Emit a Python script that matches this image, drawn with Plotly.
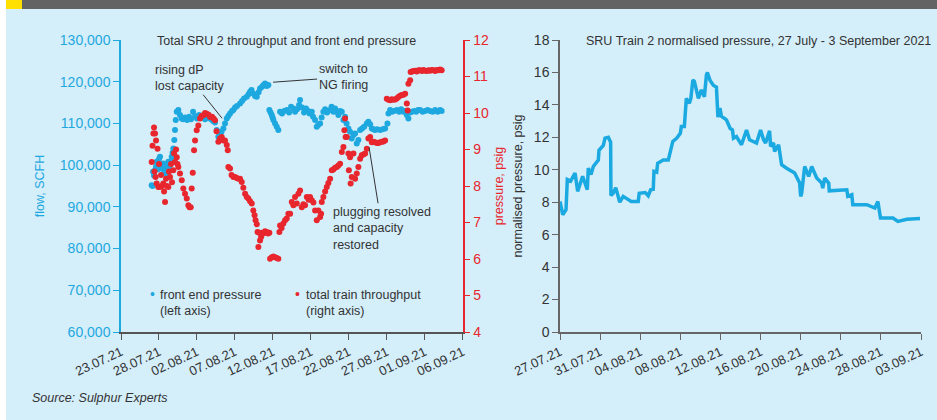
import pandas as pd
import plotly.graph_objects as go

# left panel - days counted from 23.07.21
blue_day = [4.04, 4.15, 4.22, 4.35, 4.48, 4.61, 4.70, 4.87, 5.01, 5.14, 5.27, 5.40, 5.57, 5.67, 5.80,
            5.93, 6.02, 6.13, 6.23, 6.32, 6.46, 6.59, 6.68, 6.79, 6.89, 7.02, 7.11, 7.21, 7.34, 7.55,
            7.77, 8.00, 8.17, 8.43, 8.70, 8.96, 9.22, 9.49, 9.75, 10.01, 10.28, 10.54, 10.80, 11.07,
            11.33, 11.59, 11.86, 12.12, 12.38, 12.61, 12.82, 13.04, 13.24, 13.48, 13.70, 13.93, 14.14,
            14.36, 14.62, 14.80, 15.02, 15.28, 15.68, 15.94, 16.21, 16.56, 16.80, 17.00, 17.19, 17.43,
            17.65, 17.88, 18.12, 18.31, 18.58, 18.77, 18.97, 19.20, 19.41, 19.54, 19.70, 19.85, 19.96,
            20.07, 20.29, 20.51, 20.72, 20.95, 21.21, 21.48, 21.83, 22.13, 22.40, 22.70, 22.92, 23.19,
            23.45, 23.58, 23.85, 24.11, 24.37, 24.64, 24.83, 25.13, 25.30, 25.56, 25.78, 25.96, 26.22,
            26.42, 26.65, 26.88, 27.14, 27.54, 27.73, 27.97, 28.19, 28.39, 28.63, 28.85, 29.08, 29.29,
            29.51, 29.71, 29.95, 30.17, 30.39, 30.61, 30.83, 31.05, 31.26, 31.49, 31.75, 32.02, 32.37,
            32.58, 32.81, 33.03, 33.24, 33.46, 33.73, 34.12, 34.45, 34.78, 35.09, 35.22, 35.44, 35.70,
            35.97, 36.32, 36.63, 36.89, 37.19, 37.42, 37.64, 37.85, 38.08, 38.30, 38.60, 38.87, 39.13,
            39.39, 39.72, 40.05, 40.38, 40.71, 41.04, 41.37, 41.70, 42.03, 42.23]
blue_flow = [95200, 95000, 98400, 97500, 98800, 99600, 100800, 99000, 101500, 102000, 100000, 99200,
             100400, 98800, 99600, 97800, 98400, 99400, 100800, 99500, 100000, 101000, 102000, 103000,
             104000, 106000, 108400, 110800, 112800, 113200, 112000, 111200, 111000, 111400, 110800,
             111600, 111000, 112800, 111800, 111200, 112000, 111500, 111800, 111000, 111600, 111300,
             111000, 110600, 110200, 108400, 106800, 107600, 108000, 108800, 110000, 111200, 111800,
             112400, 113000, 113200, 113800, 114200, 114800, 115400, 116000, 116400, 117000, 117600,
             118000, 117200, 116600, 116400, 117500, 118400, 118800, 119200, 119600, 119000, 119200,
             113200, 112600, 112000, 111400, 110800, 110000, 109200, 108400, 112800, 112400, 113000,
             113200, 112600, 114000, 113600, 112800, 113400, 114400, 115600, 113800, 112600, 113600,
             113000, 112400, 112800, 111600, 110800, 109200, 109600, 110000, 111400, 112800, 113400,
             112600, 113200, 114000, 112800, 113600, 112800, 112000, 113000, 112800, 110800, 111600,
             110000, 108800, 108000, 106400, 107200, 107600, 105200, 106000, 108400, 108800, 109200,
             110000, 110400, 109800, 108800, 108600, 108400, 108600, 108400, 108600, 108800, 110000,
             112400, 113200, 112800, 113000, 113200, 112800, 113400, 112800, 113000, 112000, 111200,
             112600, 112800, 113000, 112800, 113200, 113200, 112800, 113000, 113200, 113000, 112800,
             113200, 112800, 113200, 113000]

red_day = [4.04, 4.15, 4.26, 4.35, 4.41, 4.48, 4.55, 4.61, 4.70, 4.81, 4.91, 5.01, 5.14, 5.27, 5.40,
           5.57, 5.67, 5.80, 5.93, 6.06, 6.23, 6.32, 6.46, 6.59, 6.72, 6.89, 6.98, 7.11, 7.25, 7.34,
           7.44, 7.55, 7.77, 8.00, 8.21, 8.43, 8.66, 8.87, 9.02, 9.18, 9.31, 9.45, 9.62, 9.75, 9.97,
           10.18, 10.41, 10.61, 10.84, 11.07, 11.29, 11.53, 11.73, 11.99, 12.19, 12.38, 12.58, 12.82,
           13.04, 13.27, 13.48, 13.70, 13.93, 14.06, 14.14, 14.36, 14.56, 14.80, 15.02, 15.24, 15.45,
           15.68, 15.90, 16.11, 16.34, 16.56, 16.77, 17.00, 17.22, 17.43, 17.59, 17.72, 17.88, 17.98,
           18.09, 18.18, 18.31, 18.45, 18.54, 18.75, 18.97, 19.20, 19.37, 19.54, 19.63, 19.85, 20.07,
           20.29, 20.51, 20.72, 20.86, 20.95, 21.15, 21.38, 21.61, 21.83, 22.04, 22.27, 22.49, 22.70,
           22.92, 23.15, 23.36, 23.58, 23.81, 24.02, 24.24, 24.47, 24.70, 24.90, 25.13, 25.34, 25.56,
           25.78, 25.99, 26.22, 26.35, 26.44, 26.65, 26.88, 27.10, 27.31, 27.54, 27.76, 27.97, 28.19,
           28.42, 28.63, 28.85, 29.08, 29.29, 29.42, 29.51, 29.58, 29.74, 29.95, 30.01, 30.17, 30.24,
           30.39, 30.61, 30.83, 31.05, 31.26, 31.49, 31.71, 31.92, 32.15, 32.37, 32.58, 32.81, 33.03,
           33.24, 33.46, 33.69, 33.90, 34.12, 34.35, 34.56, 34.78, 35.00, 35.22, 35.44, 35.66, 35.87,
           36.10, 36.32, 36.53, 36.76, 36.98, 37.19, 37.42, 37.64, 37.75, 37.85, 38.08, 38.14, 38.34,
           38.51, 38.73, 38.96, 39.17, 39.39, 39.62, 39.83, 40.05, 40.28, 40.49, 40.71, 40.93, 41.15,
           41.37, 41.59, 41.80, 42.03, 42.23]
red_psig = [8.66, 9.10, 9.44, 9.60, 8.40, 9.44, 8.25, 9.25, 8.07, 9.02, 7.97, 8.60, 7.97, 8.30, 8.00,
            8.07, 7.85, 7.56, 8.20, 8.00, 7.97, 8.40, 8.25, 8.60, 8.10, 8.43, 8.90, 8.66, 9.00, 8.79,
            8.60, 8.52, 8.34, 8.16, 7.93, 7.79, 7.66, 7.47, 7.42, 7.42, 7.93, 8.36, 8.98, 9.25, 9.53,
            9.66, 9.85, 9.92, 9.94, 10.00, 9.98, 9.95, 9.89, 9.90, 9.85, 9.80, 9.50, 9.21,
            9.30, 9.34, 9.25, 9.25, 9.12, 8.98, 8.52, 8.48, 8.30, 8.25, 8.25, 8.22, 8.20,
            8.20, 8.11, 7.95, 7.79, 7.70, 7.66, 7.58, 7.52, 7.33, 7.20, 7.06, 6.95, 6.74,
            6.33, 6.72, 6.51, 6.60, 6.72, 6.70, 6.76, 6.74, 6.70, 6.72, 6.01, 6.05, 6.07,
            6.05, 6.03, 6.01, 6.74, 6.92, 6.85, 6.97, 7.06, 7.11, 7.24, 7.24, 7.56, 7.47,
            7.70, 7.52, 7.79, 7.88, 7.42, 7.50, 7.47, 7.70, 7.62, 7.70, 7.61, 7.55, 7.33,
            7.06, 7.33, 7.15, 7.24, 7.56, 7.70, 7.85, 7.97, 8.08, 8.20, 8.43, 8.45, 8.50,
            8.52, 8.56, 8.61, 8.93, 9.07, 9.53, 9.85, 9.34, 9.34, 8.89, 8.43, 8.79, 8.07,
            8.25, 8.89, 8.20, 8.34, 8.52, 8.75, 8.84, 8.86, 8.89, 9.02, 9.30, 9.34, 9.20,
            9.21, 9.20, 9.18, 9.18, 9.20, 9.21, 9.22, 9.25, 10.39, 10.36, 10.35, 10.38, 10.36,
            10.37, 10.40, 10.44, 10.47, 10.49, 10.50, 10.53, 10.26, 10.07, 10.80, 10.90, 11.12, 11.14,
            11.15, 11.16, 11.14, 11.17, 11.17, 11.15, 11.18, 11.16, 11.15, 11.17, 11.16, 11.18, 11.17,
            11.15, 11.18, 11.17, 11.19, 11.17]

left_ticks = ["23.07.21", "28.07.21", "02.08.21", "07.08.21", "12.08.21",
              "17.08.21", "22.08.21", "27.08.21", "01.09.21", "06.09.21"]

# right panel - days counted from 27.07.21
norm_day = [0, 0.27, 0.6, 0.73, 1.06, 1.5, 1.76, 2.26, 2.72, 2.82, 3.09, 3.32, 3.82, 3.89, 4.32, 4.49,
            4.82, 5.05, 5.08, 5.3, 5.56, 5.96, 6.3, 7.1, 7.8, 7.9, 8.5, 8.8, 9.04, 9.3, 9.37, 9.64,
            9.74, 10.3, 10.8, 11.25, 11.65, 12.0, 12.1, 12.4, 12.6, 12.9, 13.05, 13.25, 13.4, 13.8,
            14.1, 14.4, 14.6, 14.7, 14.97, 15.3, 15.6, 15.75, 15.95, 16.1, 16.6, 16.96, 17.2, 17.3,
            17.6, 18.1, 18.6, 18.9, 19.6, 20.0, 20.3, 20.5, 20.9, 21.0, 21.3, 21.4, 21.8, 22.1, 22.6,
            23.4, 23.9, 24.0, 24.1, 24.4, 24.8, 25.1, 25.6, 26.1, 26.2, 26.4, 26.8, 26.85, 28.6, 28.7,
            29.1, 29.2, 30.6, 31.4, 31.7, 31.96, 33.2, 33.7, 34.6, 35.9]
norm_psig = [8.05, 7.23, 7.54, 9.4, 9.3, 9.8, 8.67, 9.59, 8.77, 10.1, 9.7, 10.2, 10.6, 11.2, 11.5, 11.95,
             12.0, 11.7, 8.42, 8.55, 8.9, 8.0, 8.36, 8.05, 8.05, 8.55, 8.6, 8.4, 8.77, 8.8, 9.9, 9.85,
             10.4, 10.6, 10.6, 11.75, 11.95, 12.25, 12.67, 12.67, 14.4, 14.1, 14.4, 15.54, 15.45, 14.4,
             14.92, 14.5, 15.85, 16.0, 15.5, 15.2, 15.1, 13.24, 13.8, 13.3, 13.08, 12.56, 12.45, 11.95,
             12.05, 11.54, 12.45, 11.85, 11.65, 12.45, 11.85, 11.65, 12.4, 11.44, 11.65, 11.13, 11.54,
             10.31, 10.1, 9.8, 9.18, 8.36, 8.55, 10.2, 9.59, 10.2, 9.49, 9.18, 8.87, 9.49, 9.18, 8.7,
             8.77, 8.36, 8.46, 7.85, 7.85, 7.64, 8.05, 7.03, 7.03, 6.82, 6.95, 7.0]

right_tick_day = [0, 4, 8, 12, 16, 20, 24, 28, 32, 36]
right_ticks = ["27.07.21", "31.07.21", "04.08.21", "08.08.21", "12.08.21",
               "16.08.21", "20.08.21", "24.08.21", "28.08.21", "03.09.21"]

BG = "#d4eefa"
BLUE = "#1ea8e0"
RED = "#e8262d"
DARK = "#333333"
FONT = "Liberation Sans, Arial, sans-serif"

start = pd.Timestamp("2021-07-23")
blue_x = start + pd.to_timedelta(blue_day, unit="D")
red_x = start + pd.to_timedelta(red_day, unit="D")
left_tickvals = pd.to_datetime(left_ticks, format="%d.%m.%y")

fig = go.Figure()
fig.add_trace(go.Scatter(x=blue_x, y=blue_flow, mode="markers", xaxis="x", yaxis="y",
                         marker=dict(color=BLUE, size=6), name="front end pressure"))
fig.add_trace(go.Scatter(x=red_x, y=red_psig, mode="markers", xaxis="x", yaxis="y2",
                         marker=dict(color=RED, size=6), name="total train throughput"))
fig.add_trace(go.Scatter(x=norm_day, y=norm_psig, mode="lines", xaxis="x2", yaxis="y3",
                         line=dict(color="#1ba9e1", width=3.5), name="normalised pressure"))

W, H, T, B = 937, 420, 40, 88
PH = H - T - B

def py(p):
    # pixel from top -> paper y
    return (H - B - p) / PH

axis_common = dict(showgrid=False, zeroline=False, showline=True, ticks="outside", ticklen=6,
                   automargin=False)

fig.update_layout(
    width=W, height=H,
    margin=dict(l=0, r=0, t=T, b=B, autoexpand=False),
    paper_bgcolor=BG, plot_bgcolor=BG,
    font=dict(family=FONT, size=13, color=DARK),
    showlegend=False,
    xaxis=dict(axis_common, domain=[121 / W, 462.7 / W], anchor="y", type="date",
               range=[left_tickvals[0], left_tickvals[-1]], tickvals=left_tickvals, ticktext=left_ticks,
               tickangle=-25, linecolor="#555555", linewidth=1.5, tickcolor="#555555",
               tickfont=dict(color=DARK, size=13)),
    yaxis=dict(axis_common, range=[60000, 130000], dtick=10000, tickformat=",", anchor="x",
               linecolor=BLUE, linewidth=1.5, tickcolor=BLUE, tickfont=dict(color=BLUE, size=14),
               title=dict(text="flow, SCFH", font=dict(color=BLUE, size=12.5), standoff=12)),
    yaxis2=dict(axis_common, range=[4, 12], dtick=1, overlaying="y", side="right", anchor="x",
                linecolor=RED, linewidth=1.5, tickcolor=RED, tickfont=dict(color=RED, size=14),
                title=dict(text="pressure, psig", font=dict(color=RED, size=12.5), standoff=6)),
    xaxis2=dict(axis_common, domain=[560 / W, 921 / W], anchor="y3", range=[0, 36],
                tickvals=right_tick_day, ticktext=right_ticks, tickangle=-25,
                linecolor="#666666", linewidth=1.5, tickcolor="#666666",
                tickfont=dict(color=DARK, size=13)),
    yaxis3=dict(axis_common, domain=[0, 1], anchor="x2", range=[0, 18], dtick=2,
                linecolor="#666666", linewidth=1.5, tickcolor="#666666",
                tickfont=dict(color=DARK, size=14),
                title=dict(text="normalised pressure, psig", font=dict(color=DARK, size=12.5), standoff=8)),
)

# header bar and left white strip
fig.add_shape(type="rect", xref="paper", yref="paper", x0=0, x1=6 / W, y0=py(H), y1=py(0),
              fillcolor="white", line_width=0, layer="below")
fig.add_shape(type="rect", xref="paper", yref="paper", x0=22 / W, x1=1, y0=py(9), y1=py(0),
              fillcolor="#636363", line_width=0)
fig.add_shape(type="rect", xref="paper", yref="paper", x0=6 / W, x1=22 / W, y0=py(9), y1=py(0),
              fillcolor="#ffe000", line_width=0)

def label(text, x, y, size=12.5, color=DARK, anchor="left"):
    fig.add_annotation(text=text, xref="paper", yref="paper", x=x / W, y=py(y), xanchor=anchor,
                       yanchor="middle", showarrow=False, align="left", font=dict(size=size, color=color))

label("Total SRU 2 throughput and front end pressure", 155, 41)
label("SRU Train 2 normalised pressure, 27 July - 3 September 2021", 584, 41)
label("<i>Source: Sulphur Experts</i>", 30, 398)

# legend drawn as text keys
label("•", 152, 294, size=14, color=BLUE, anchor="center")
label("front end pressure<br>(left axis)", 158, 303)
label("•", 297, 294, size=14, color=RED, anchor="center")
label("total train throughput<br>(right axis)", 304, 303)

notes = [
    ("rising dP<br>lost capacity", 13.3, 111250, -32, -40),
    ("switch to<br>NG firing", 20.03, 119880, 70, -5),
    ("plugging resolved<br>and capacity<br>restored", 32.67, 104290, 13, 81),
]
for text, d, v, ax, ay in notes:
    fig.add_annotation(text=text, x=start + pd.Timedelta(days=d), y=v, xref="x", yref="y",
                       ax=ax, ay=ay, showarrow=True, arrowhead=0, arrowwidth=1, arrowcolor=DARK,
                       align="left", font=dict(size=12.5, color=DARK))

# the page's default body margin would push the 937 px figure off the window
fig.write_html("out.html", config={"displayModeBar": False},
               post_script="document.body.style.margin = '0';")
